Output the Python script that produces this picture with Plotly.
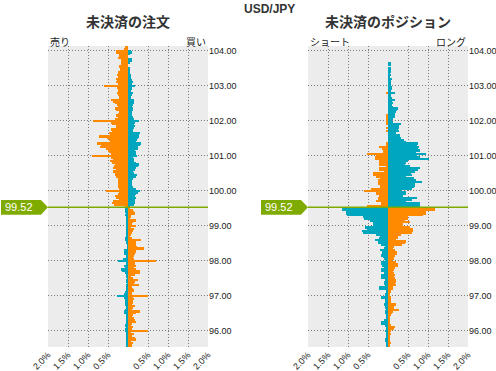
import plotly.graph_objects as go

current_price = 99.52
price_label = "99.52"
pair_title = "USD/JPY"
titles = ["未決済の注文", "未決済のポジション"]
side_labels = [("売り", "買い"), ("ショート", "ロング")]

# price buckets, from 104.10 down to 95.55 in 0.05 steps
prices = [round(104.10 - 0.05 * i, 2) for i in range(172)]

x_tickvals = [-2, -1.5, -1, -0.5, 0.5, 1, 1.5, 2]
x_ticktext = ["2.0%", "1.5%", "1.0%", "0.5%", "0.5%", "1.0%", "1.5%", "2.0%"]
y_tickvals = [96, 97, 98, 99, 100, 101, 102, 103, 104]
y_ticktext = ["96.00", "97.00", "98.00", "99.00", "100.00", "101.00", "102.00", "103.00", "104.00"]

# open orders (% of total): left side (sell) and right side (buy)
order_sell = [
    0.08, 0.10, 0.29,
    0.31, 0.22, 0.22, 0.25, 0.18, 0.17, 0.18, 0.17, 0.22, 0.20, 0.20, 0.25, 0.24, 0.27, 0.25, 0.29, 0.27, 0.29, 0.25, 0.61,
    0.27, 0.26, 0.25, 0.27, 0.26, 0.22, 0.23, 0.42, 0.38, 0.33, 0.28, 0.25, 0.33, 0.30, 0.22, 0.24, 0.30, 0.26, 0.33, 0.88,
    0.43, 0.40, 0.29, 0.31, 0.43, 0.41, 0.47, 0.45, 0.73, 0.52, 0.48, 0.46, 0.77, 0.68, 0.71, 0.55, 0.50, 0.47, 0.42, 0.89,
    0.42, 0.38, 0.46, 0.40, 0.33, 0.35, 0.37, 0.30, 0.37, 0.33, 0.33, 0.30, 0.25, 0.26, 0.25, 0.24, 0.25, 0.25, 0.22, 0.54,
    0.22, 0.25, 0.33, 0.30, 0.22, 0.38, 0.39, 0.35, 0.08,
    0.08, 0.07, 0.08, 0.04, 0.07, 0.04, 0.04, 0.04, 0.06, 0.05, 0.04,
    0.06, 0.04, 0.04, 0.04, 0.03, 0.04, 0.08, 0.08, 0.03, 0.04, 0.02, 0.02, 0.02, 0.10, 0.11, 0.11, 0.05, 0.06, 0.12, 0.25,
    0.04, 0.06, 0.10, 0.08, 0.18, 0.15, 0.08, 0.06, 0.03, 0.02, 0.03, 0.05, 0.02, 0.04, 0.03, 0.03, 0.06, 0.07, 0.10, 0.27,
    0.10, 0.08, 0.07, 0.08, 0.07, 0.05, 0.05, 0.08, 0.11, 0.10, 0.05, 0.03, 0.05, 0.04, 0.04, 0.03, 0.08, 0.05, 0.07, 0.07,
    0.05, 0.03, 0.03, 0.03, 0.03, 0.03, 0.03, 0.03, 0.03,
]
order_buy = [
    0.0, 0.0, 0.08,
    0.09, 0.04, 0.0, 0.0, 0.09, 0.09, 0.05, 0.0, 0.0, 0.03, 0.04, 0.05, 0.06, 0.07, 0.08, 0.08, 0.10, 0.12, 0.09, 0.17,
    0.10, 0.09, 0.08, 0.12, 0.10, 0.07, 0.08, 0.15, 0.14, 0.15, 0.12, 0.10, 0.13, 0.12, 0.10, 0.09, 0.11, 0.12, 0.14, 0.27,
    0.17, 0.16, 0.17, 0.15, 0.12, 0.13, 0.31, 0.28, 0.27, 0.25, 0.22, 0.20, 0.32, 0.30, 0.26, 0.24, 0.17, 0.19, 0.20, 0.23,
    0.13, 0.14, 0.15, 0.20, 0.28, 0.24, 0.20, 0.18, 0.13, 0.14, 0.23, 0.20, 0.12, 0.11, 0.10, 0.09, 0.10, 0.12, 0.20, 0.29,
    0.25, 0.20, 0.18, 0.20, 0.18, 0.18, 0.18, 0.15, 0.04,
    0.03, 0.12, 0.15, 0.17, 0.08, 0.08, 0.06, 0.21, 0.12, 0.10, 0.21,
    0.07, 0.15, 0.12, 0.09, 0.08, 0.06, 0.10, 0.33, 0.19, 0.21, 0.20, 0.23, 0.39, 0.20, 0.21, 0.18, 0.15, 0.12, 0.15, 0.69,
    0.18, 0.17, 0.21, 0.15, 0.21, 0.31, 0.31, 0.18, 0.08, 0.12, 0.25, 0.18, 0.15, 0.27, 0.10, 0.12, 0.15, 0.10, 0.11, 0.50,
    0.12, 0.15, 0.13, 0.12, 0.10, 0.17, 0.12, 0.10, 0.31, 0.20, 0.12, 0.10, 0.15, 0.18, 0.20, 0.10, 0.08, 0.12, 0.09, 0.50,
    0.08, 0.15, 0.10, 0.18, 0.20, 0.08, 0.12, 0.10, 0.10,
]

# open positions (% of total): left side (short) and right side (long)
pos_short = [
    0, 0, 0, 0, 0, 0, 0, 0, 0,
    0, 0, 0, 0, 0, 0, 0, 0, 0, 0, 0, 0, 0, 0,
    0, 0, 0, 0.04, 0, 0, 0, 0, 0, 0, 0, 0, 0, 0, 0, 0, 0.04, 0.04, 0.04, 0.04,
    0.04, 0.04, 0, 0.03, 0, 0.04, 0, 0, 0, 0, 0, 0, 0.06, 0.06, 0.23, 0.15, 0.12, 0.12, 0.52, 0.31,
    0.33, 0.33, 0.22, 0.22, 0.22, 0.06, 0.22, 0.22, 0.11, 0.37, 0.37, 0.31, 0.21, 0.25, 0.25, 0.25, 0.21, 0.21, 0.42, 0.61,
    0.29, 0.29, 0.23, 0.25, 0.25, 0.29, 0.17, 0.17, 0.53,
    1.16, 1.16, 1.04, 1.04, 1.02, 0.62, 0.60, 0.46, 0.37, 0.37, 0.37,
    0.58, 0.52, 0.64, 0.62, 0.29, 0.21, 0.22, 0.33, 0.25, 0.26, 0.17, 0.08, 0.09, 0.21, 0.14, 0.15, 0.17, 0.12, 0.11, 0.08,
    0.17, 0.17, 0.16, 0.10, 0.18, 0.17, 0.10, 0.18, 0.18,
    0.18, 0.08, 0.11, 0.10, 0.08, 0.23, 0.22, 0.04, 0.04, 0.08, 0.08,
    0.18, 0.08, 0.08, 0.07, 0.11, 0.08, 0.08, 0.06, 0.08, 0.08, 0.04, 0.03, 0.03, 0.11, 0.18, 0.17, 0.08, 0.06, 0.06, 0.08,
    0.06, 0.06, 0.05, 0.03, 0.08, 0.07, 0.04, 0.03, 0.03,
]
pos_long = [
    0, 0, 0, 0, 0, 0, 0, 0, 0,
    0.07, 0.07, 0, 0.08, 0.08, 0.07, 0.06, 0.07, 0.04, 0.09, 0.08, 0.07, 0.07, 0.08,
    0.11, 0.10, 0.08, 0.17, 0.08, 0.08, 0.09, 0.17, 0.10, 0.12, 0.11, 0.13, 0.25, 0.23, 0.19, 0.18, 0.18, 0.17, 0.12, 0.11,
    0.12, 0.32, 0.27, 0.27, 0.25, 0.27, 0.21, 0.29, 0.30, 0.32, 0.40, 0.46, 0.75, 0.72, 0.77, 0.74, 0.79, 0.70, 0.96, 0.72,
    0.80, 1.02, 0.50, 0.45, 0.42, 0.54, 0.81, 0.75, 0.67, 0.58, 0.60, 0.44, 0.64, 0.70, 0.86, 0.68, 0.68, 0.66, 0.61, 0.33,
    0.44, 0.44, 0.38, 0.73, 0.60, 0.44, 0.79, 0.79, 0.81,
    1.17, 1.17, 0.96, 0.96, 0.87, 0.50, 0.50, 0.42, 0.54, 0.37, 0.37,
    0.54, 0.62, 0.62, 0.60, 0.32, 0.25, 0.24, 0.19, 0.44, 0.42, 0.36, 0.14, 0.13, 0.17, 0.23, 0.22, 0.17, 0.15, 0.14, 0.11,
    0.21, 0.25, 0.24, 0.18, 0.14, 0.13, 0.15, 0.17, 0.16,
    0.17, 0.21, 0.20, 0.17, 0.19, 0.13, 0.12, 0.08, 0.07, 0.06, 0.06,
    0.08, 0.08, 0.07, 0.08, 0.19, 0.15, 0.14, 0.27, 0.12, 0.11, 0.08, 0.04, 0.04, 0.03, 0.03, 0.03, 0.07, 0.17, 0.16, 0.08,
    0.03, 0.07, 0.06, 0.03, 0.04, 0.04, 0.07, 0.04, 0.04,
]

for arr in (order_sell, order_buy, pos_short, pos_long):
    assert len(arr) == len(prices), len(arr)

ORANGE = "#ff8a00"
TEAL = "#00a5be"
GREEN = "#7fab00"
BG = "#ececec"
GRID = "#7a7a7a"

def colors(left_side):
    out = []
    for p in prices:
        above = p > current_price
        if left_side:
            out.append(ORANGE if above else TEAL)
        else:
            out.append(TEAL if above else ORANGE)
    return out

fig = go.Figure()
panels = [(order_sell, order_buy, "x", "y"), (pos_short, pos_long, "x2", "y2")]
for left_vals, right_vals, xa, ya in panels:
    fig.add_trace(go.Bar(y=prices, x=[-v for v in left_vals], orientation="h", width=0.05,
                         marker=dict(color=colors(True), line=dict(width=0)),
                         xaxis=xa, yaxis=ya, hoverinfo="skip", showlegend=False))
    fig.add_trace(go.Bar(y=prices, x=right_vals, orientation="h", width=0.05,
                         marker=dict(color=colors(False), line=dict(width=0)),
                         xaxis=xa, yaxis=ya, hoverinfo="skip", showlegend=False))

W, H = 496, 371
dom_x = [[48 / W, 208 / W], [308 / W, 468 / W]]
dom_y = [1 - 347 / H, 1 - 46 / H]
y_range = [95.53, 104.13]

xcommon = dict(range=[-2, 2], tickvals=x_tickvals, ticktext=x_ticktext, tickangle=-45,
               showgrid=True, gridcolor=GRID, griddash="1px,2px", gridwidth=1, zeroline=False,
               showline=False, ticks="", automargin=False,
               tickfont=dict(family="Liberation Sans, Arial", size=9, color="#222"),
               fixedrange=True)
ycommon = dict(range=y_range, tickvals=y_tickvals, ticktext=y_ticktext, side="right",
               showgrid=True, gridcolor=GRID, griddash="1px,2px", gridwidth=1, zeroline=False,
               showline=False, ticks="", automargin=False,
               tickfont=dict(family="Liberation Sans, Arial", size=9, color="#222"),
               fixedrange=True)

fig.update_layout(
    width=W, height=H, autosize=False,
    margin=dict(l=0, r=0, t=0, b=0, autoexpand=False),
    paper_bgcolor="white", plot_bgcolor=BG,
    barmode="overlay", bargap=0,
    xaxis=dict(domain=dom_x[0], anchor="y", **xcommon),
    yaxis=dict(domain=dom_y, anchor="x", **ycommon),
    xaxis2=dict(domain=dom_x[1], anchor="y2", **xcommon),
    yaxis2=dict(domain=dom_y, anchor="x2", **ycommon),
)

annotations = [
    dict(text="<b>" + pair_title + "</b>", x=269 / W, y=1 - 9 / H, xref="paper", yref="paper",
         xanchor="center", yanchor="middle", showarrow=False,
         font=dict(family="Liberation Sans, Arial", size=12, color="#333")),
]
shapes = []
cjk = "Noto Sans CJK JP"
for i, (d, title, (lt, rt)) in enumerate(zip(dom_x, titles, side_labels)):
    annotations.append(dict(text="<b>" + title + "</b>", x=(d[0] + d[1]) / 2, y=1 - 21.5 / H,
                            xref="paper", yref="paper", xanchor="center", yanchor="middle",
                            showarrow=False, font=dict(family=cjk, size=14, color="#333")))
    annotations.append(dict(text=lt, x=d[0], y=1 - 41 / H, xref="paper", yref="paper",
                            xanchor="left", yanchor="middle", showarrow=False,
                            font=dict(family=cjk, size=10, color="#222")))
    annotations.append(dict(text=rt, x=d[1], y=1 - 41 / H, xref="paper", yref="paper",
                            xanchor="right", yanchor="middle", showarrow=False,
                            font=dict(family=cjk, size=10, color="#222")))
    yref = "y" if i == 0 else "y2"
    # current price line
    shapes.append(dict(type="line", xref="paper", yref=yref, x0=d[0], x1=d[1],
                       y0=current_price, y1=current_price, line=dict(color=GREEN, width=1.5)))
    # price tag (arrow-shaped box)
    tip = d[0]
    xb = tip - 7 / W
    xa_ = tip - 47 / W
    yt, yb = current_price + 0.21, current_price - 0.21
    shapes.append(dict(type="path", xref="paper", yref=yref,
                       path=f"M {xa_},{yb} L {xb},{yb} L {tip},{current_price} L {xb},{yt} L {xa_},{yt} Z",
                       fillcolor=GREEN, line=dict(width=0)))
    annotations.append(dict(text=price_label, x=xa_ + 2 / W, y=current_price, xref="paper", yref=yref,
                            xanchor="left", yanchor="middle", showarrow=False,
                            font=dict(family="Liberation Sans, Arial", size=11, color="white")))

fig.update_layout(annotations=annotations, shapes=shapes)
fig.write_html("out.html", config={"displayModeBar": False},
               post_script="document.body.style.margin='0';")
